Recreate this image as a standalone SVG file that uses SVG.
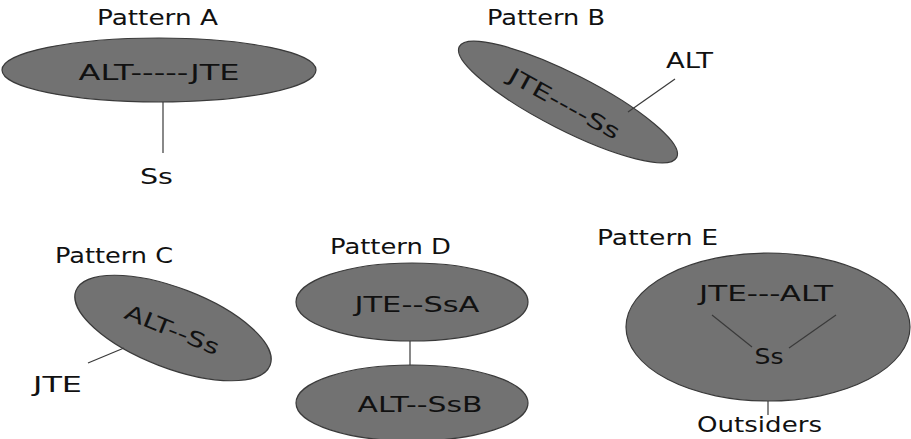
<svg xmlns="http://www.w3.org/2000/svg" width="911" height="439" viewBox="0 0 911 439">
  <style>
    .blob { fill: #727272; stroke: #3a3a3a; stroke-width: 1.2; }
    .lbl { font-family: "DejaVu Sans", "Liberation Sans", sans-serif; font-size: 21px; fill: #111; }
    .mid { text-anchor: middle; }
    .link { stroke: #3a3a3a; stroke-width: 1.2; fill: none; }
  </style>
  <rect width="911" height="439" fill="#ffffff"/>

  <!-- Pattern A -->
  <g id="pattern-a">
    <text class="lbl" x="97" y="25" textLength="121" lengthAdjust="spacingAndGlyphs">Pattern A</text>
    <ellipse class="blob" cx="159" cy="70" rx="157" ry="32"/>
    <text class="lbl mid" x="159" y="80" textLength="161" lengthAdjust="spacingAndGlyphs">ALT-----JTE</text>
  </g>
  <g id="pattern-a-ss">
    <text class="lbl" x="140" y="184" textLength="33" lengthAdjust="spacingAndGlyphs">Ss</text>
  </g>

  <!-- Pattern B -->
  <g id="pattern-b">
    <text class="lbl" x="487" y="25" textLength="118" lengthAdjust="spacingAndGlyphs">Pattern B</text>
    <ellipse class="blob" cx="568" cy="102" rx="122" ry="28" transform="rotate(27 568 102)"/>
    <text class="lbl mid" x="0" y="7" textLength="124" lengthAdjust="spacingAndGlyphs" transform="translate(564 104) rotate(29)">JTE----Ss</text>
  </g>
  <g id="pattern-b-alt">
    <text class="lbl" x="666" y="68" textLength="47" lengthAdjust="spacingAndGlyphs">ALT</text>
  </g>

  <!-- Pattern C -->
  <g id="pattern-c">
    <text class="lbl" x="55" y="263" textLength="118" lengthAdjust="spacingAndGlyphs">Pattern C</text>
    <ellipse class="blob" cx="173" cy="328" rx="104" ry="40" transform="rotate(21 173 328)"/>
    <text class="lbl mid" x="0" y="7" textLength="100" lengthAdjust="spacingAndGlyphs" transform="translate(172 330) rotate(22)">ALT--Ss</text>
  </g>
  <g id="pattern-c-jte">
    <text class="lbl" x="33" y="392" textLength="49" lengthAdjust="spacingAndGlyphs">JTE</text>
  </g>

  <!-- Pattern D -->
  <g id="pattern-d">
    <text class="lbl" x="330" y="254" textLength="121" lengthAdjust="spacingAndGlyphs">Pattern D</text>
  </g>
  <g id="pattern-d-a">
    <ellipse class="blob" cx="412" cy="302" rx="116" ry="39"/>
    <text class="lbl mid" x="417" y="312" textLength="125" lengthAdjust="spacingAndGlyphs">JTE--SsA</text>
  </g>
  <g id="pattern-d-b">
    <ellipse class="blob" cx="412" cy="403" rx="116" ry="38"/>
    <text class="lbl mid" x="420" y="412" textLength="125" lengthAdjust="spacingAndGlyphs">ALT--SsB</text>
  </g>

  <!-- Pattern E -->
  <g id="pattern-e">
    <text class="lbl" x="597" y="245" textLength="121" lengthAdjust="spacingAndGlyphs">Pattern E</text>
    <ellipse class="blob" cx="768" cy="327" rx="142" ry="74"/>
    <text class="lbl mid" x="766" y="301" textLength="134" lengthAdjust="spacingAndGlyphs">JTE---ALT</text>
    <text class="lbl mid" x="769" y="364" textLength="29" lengthAdjust="spacingAndGlyphs">Ss</text>
  </g>
  <g id="pattern-e-outsiders">
    <text class="lbl" x="697" y="432" textLength="125" lengthAdjust="spacingAndGlyphs">Outsiders</text>
  </g>

  <!-- connectors -->
  <g id="connectors">
    <line class="link" x1="163" y1="102" x2="163" y2="153"/>
    <line class="link" x1="675" y1="79" x2="628" y2="112"/>
    <line class="link" x1="88" y1="363" x2="124" y2="348"/>
    <line class="link" x1="410" y1="341" x2="410" y2="365"/>
    <line class="link" x1="712" y1="315" x2="752" y2="347"/>
    <line class="link" x1="836" y1="315" x2="789" y2="348"/>
    <line class="link" x1="768" y1="401" x2="768" y2="415"/>
  </g>
</svg>
